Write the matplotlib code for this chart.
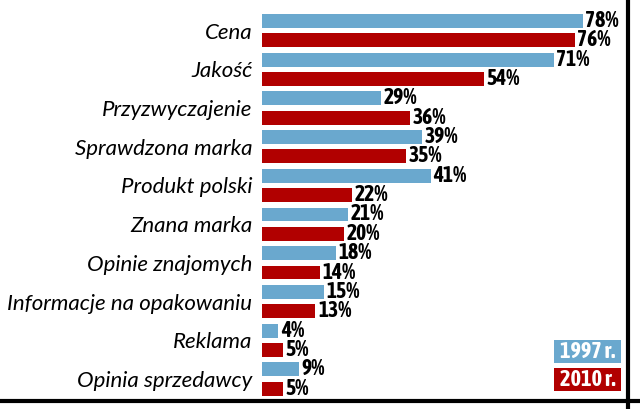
import matplotlib.pyplot as plt
from matplotlib.lines import Line2D
from matplotlib.patches import Rectangle
import numpy as np

categories = ["Cena", "Jakość", "Przyzwyczajenie", "Sprawdzona marka", "Produkt polski",
              "Znana marka", "Opinie znajomych", "Informacje na opakowaniu", "Reklama",
              "Opinia sprzedawcy"]
vals_1997 = [78, 71, 29, 39, 41, 21, 18, 15, 4, 9]
vals_2010 = [76, 54, 36, 35, 22, 20, 14, 13, 5, 5]
series_labels = ["1997 r.", "2010 r."]

blue = "#6aa8ce"
red = "#b10000"
label_font = ["Asap Condensed", "Barlow Semi Condensed", "DejaVu Sans"]
cat_font = ["Lato", "Open Sans", "DejaVu Sans"]

W, H = 640, 409
fig = plt.figure(figsize=(W / 100, H / 100), dpi=100)
ax = fig.add_axes([262 / W, (H - 400) / H, (628 - 262) / W, (400 - 10) / H])

n = len(categories)
y_blue = np.arange(n) * 2
y_red = y_blue + 1
ax.barh(y_blue, vals_1997, height=0.72, color=blue)
ax.barh(y_red, vals_2010, height=0.72, color=red)

for y, v in zip(y_blue, vals_1997):
    ax.text(v + 0.6, y, f"{v}%", va="center", ha="left", fontsize=15.5,
            fontweight="bold", family=label_font)
for y, v in zip(y_red, vals_2010):
    ax.text(v + 0.6, y, f"{v}%", va="center", ha="left", fontsize=15.5,
            fontweight="bold", family=label_font)

ax.set_xlim(0, 89)
ax.set_ylim(2 * n - 1 + 0.59, -0.57)
ax.set_yticks(y_blue + 0.5)
ax.set_yticklabels(categories, fontsize=16, style="italic", family=cat_font)
ax.tick_params(axis="y", length=0, pad=7)
ax.set_xticks([])
for s in ax.spines.values():
    s.set_visible(False)

# legend boxes
for lbl, c, y0 in zip(series_labels, [blue, red], [340, 368]):
    fig.add_artist(Rectangle((554 / W, 1 - (y0 + 23) / H), 67 / W, 23 / H,
                             facecolor=c, edgecolor="none", transform=fig.transFigure))
    fig.text(587.5 / W, 1 - (y0 + 11.5) / H, lbl, ha="center", va="center",
             color="white", fontsize=16, fontweight="bold", family=label_font)

# frame lines
fig.add_artist(Line2D([0, 1], [1 - 401 / H, 1 - 401 / H], color="black", lw=3,
                      transform=fig.transFigure))
fig.add_artist(Line2D([628 / W, 628 / W], [0, 1], color="black", lw=3,
                      transform=fig.transFigure))

fig.savefig("out.png", dpi=100)
